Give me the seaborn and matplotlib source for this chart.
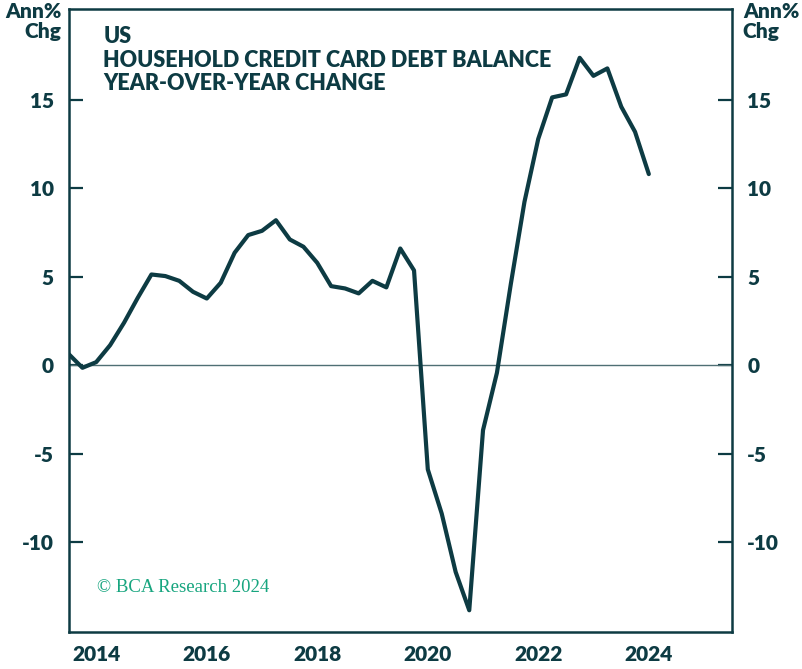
import matplotlib
matplotlib.use("Agg")
import matplotlib.pyplot as plt
import matplotlib.dates as mdates
import numpy as np
import pandas as pd
import seaborn as sns

# Quarterly year-over-year change in US household credit card balances (%)
quarters = pd.period_range("2013Q4", "2024Q2", freq="Q")
yoy_change = [
    0.62, -0.15, 0.17, 1.13, 2.40, 3.80, 5.13, 5.04, 4.77, 4.15,
    3.77, 4.66, 6.36, 7.36, 7.60, 8.20, 7.11, 6.70, 5.79, 4.47,
    4.34, 4.06, 4.77, 4.40, 6.60, 5.36, -5.90, -8.40, -11.70, -13.87,
    -3.68, -0.43, 4.60, 9.24, 12.80, 15.15, 15.32, 17.39, 16.37, 16.79,
    14.62, 13.20, 10.81,
]
y_ticks = [-10, -5, 0, 5, 10, 15]
year_labels = [2014, 2016, 2018, 2020, 2022, 2024]
title_lines = ["US", "HOUSEHOLD CREDIT CARD DEBT BALANCE", "YEAR-OVER-YEAR CHANGE"]
unit_label = "Ann%\nChg"
credit = "\u00a9 BCA Research 2024"

INK = "#0d3b43"
GREEN = "#17a57f"

df = pd.DataFrame({
    "date": quarters.to_timestamp(how="end").normalize(),
    "yoy": yoy_change,
})

sns.set_theme(style="white")
plt.rcParams["font.family"] = ["Lato", "DejaVu Sans"]

fig = plt.figure(figsize=(8.03, 6.69), dpi=100)
ax = fig.add_axes([0.0859, 0.0553, 0.8257, 0.9312])

ax.axhline(0, color="#4f6f74", lw=1.0, zorder=1)
sns.lineplot(data=df, x="date", y="yoy", ax=ax, color=INK, lw=3.0,
             zorder=3, legend=False)

ax.set_xlim(pd.Timestamp("2014-01-01"), pd.Timestamp("2026-01-01"))
ax.set_ylim(-15.1, 20.15)

# Year boundaries as tick marks, labels centred on every other year
ax.xaxis.set_major_locator(mdates.YearLocator(1))
ax.xaxis.set_major_formatter(plt.NullFormatter())
ax.set_xticks([pd.Timestamp(f"{y}-07-01") for y in year_labels], minor=True)
ax.set_xticklabels([str(y) for y in year_labels], minor=True)
ax.tick_params(axis="x", which="major", direction="in", length=12, width=1.6,
               color=INK, top=False)
ax.tick_params(axis="x", which="minor", length=0, pad=9,
               labelsize=15, labelcolor=INK)
for lbl in ax.get_xticklabels(minor=True):
    lbl.set_fontweight("heavy")

ax.set_yticks(y_ticks)
ax.set_yticklabels([str(v) for v in y_ticks])
ax.tick_params(axis="y", direction="in", length=10, width=1.6, color=INK,
               left=True, right=True, labelleft=True, labelright=True,
               labelsize=15, labelcolor=INK, pad=11)
for lbl in ax.get_yticklabels():
    lbl.set_fontweight("heavy")

for side in ax.spines.values():
    side.set_visible(True)
    side.set_color(INK)
    side.set_linewidth(1.8)

ax.set_xlabel("")
ax.set_ylabel("")

# Units above both value axes
fig.text(0.077, 0.997, unit_label, ha="right", va="top", fontsize=15,
         fontweight="heavy", color=INK, linespacing=1.05)
fig.text(0.925, 0.997, unit_label, ha="left", va="top", fontsize=15,
         fontweight="heavy", color=INK, linespacing=1.05)

# Chart title block
ax.text(0.052, 0.972, "\n".join(title_lines), transform=ax.transAxes,
        ha="left", va="top", fontsize=15.5, fontweight="heavy", color=INK,
        linespacing=1.12)

ax.text(0.042, 0.072, credit, transform=ax.transAxes, ha="left",
        va="center", fontsize=13.5, color=GREEN,
        family=["Liberation Serif", "DejaVu Serif"])

fig.savefig("out.png", dpi=100)
